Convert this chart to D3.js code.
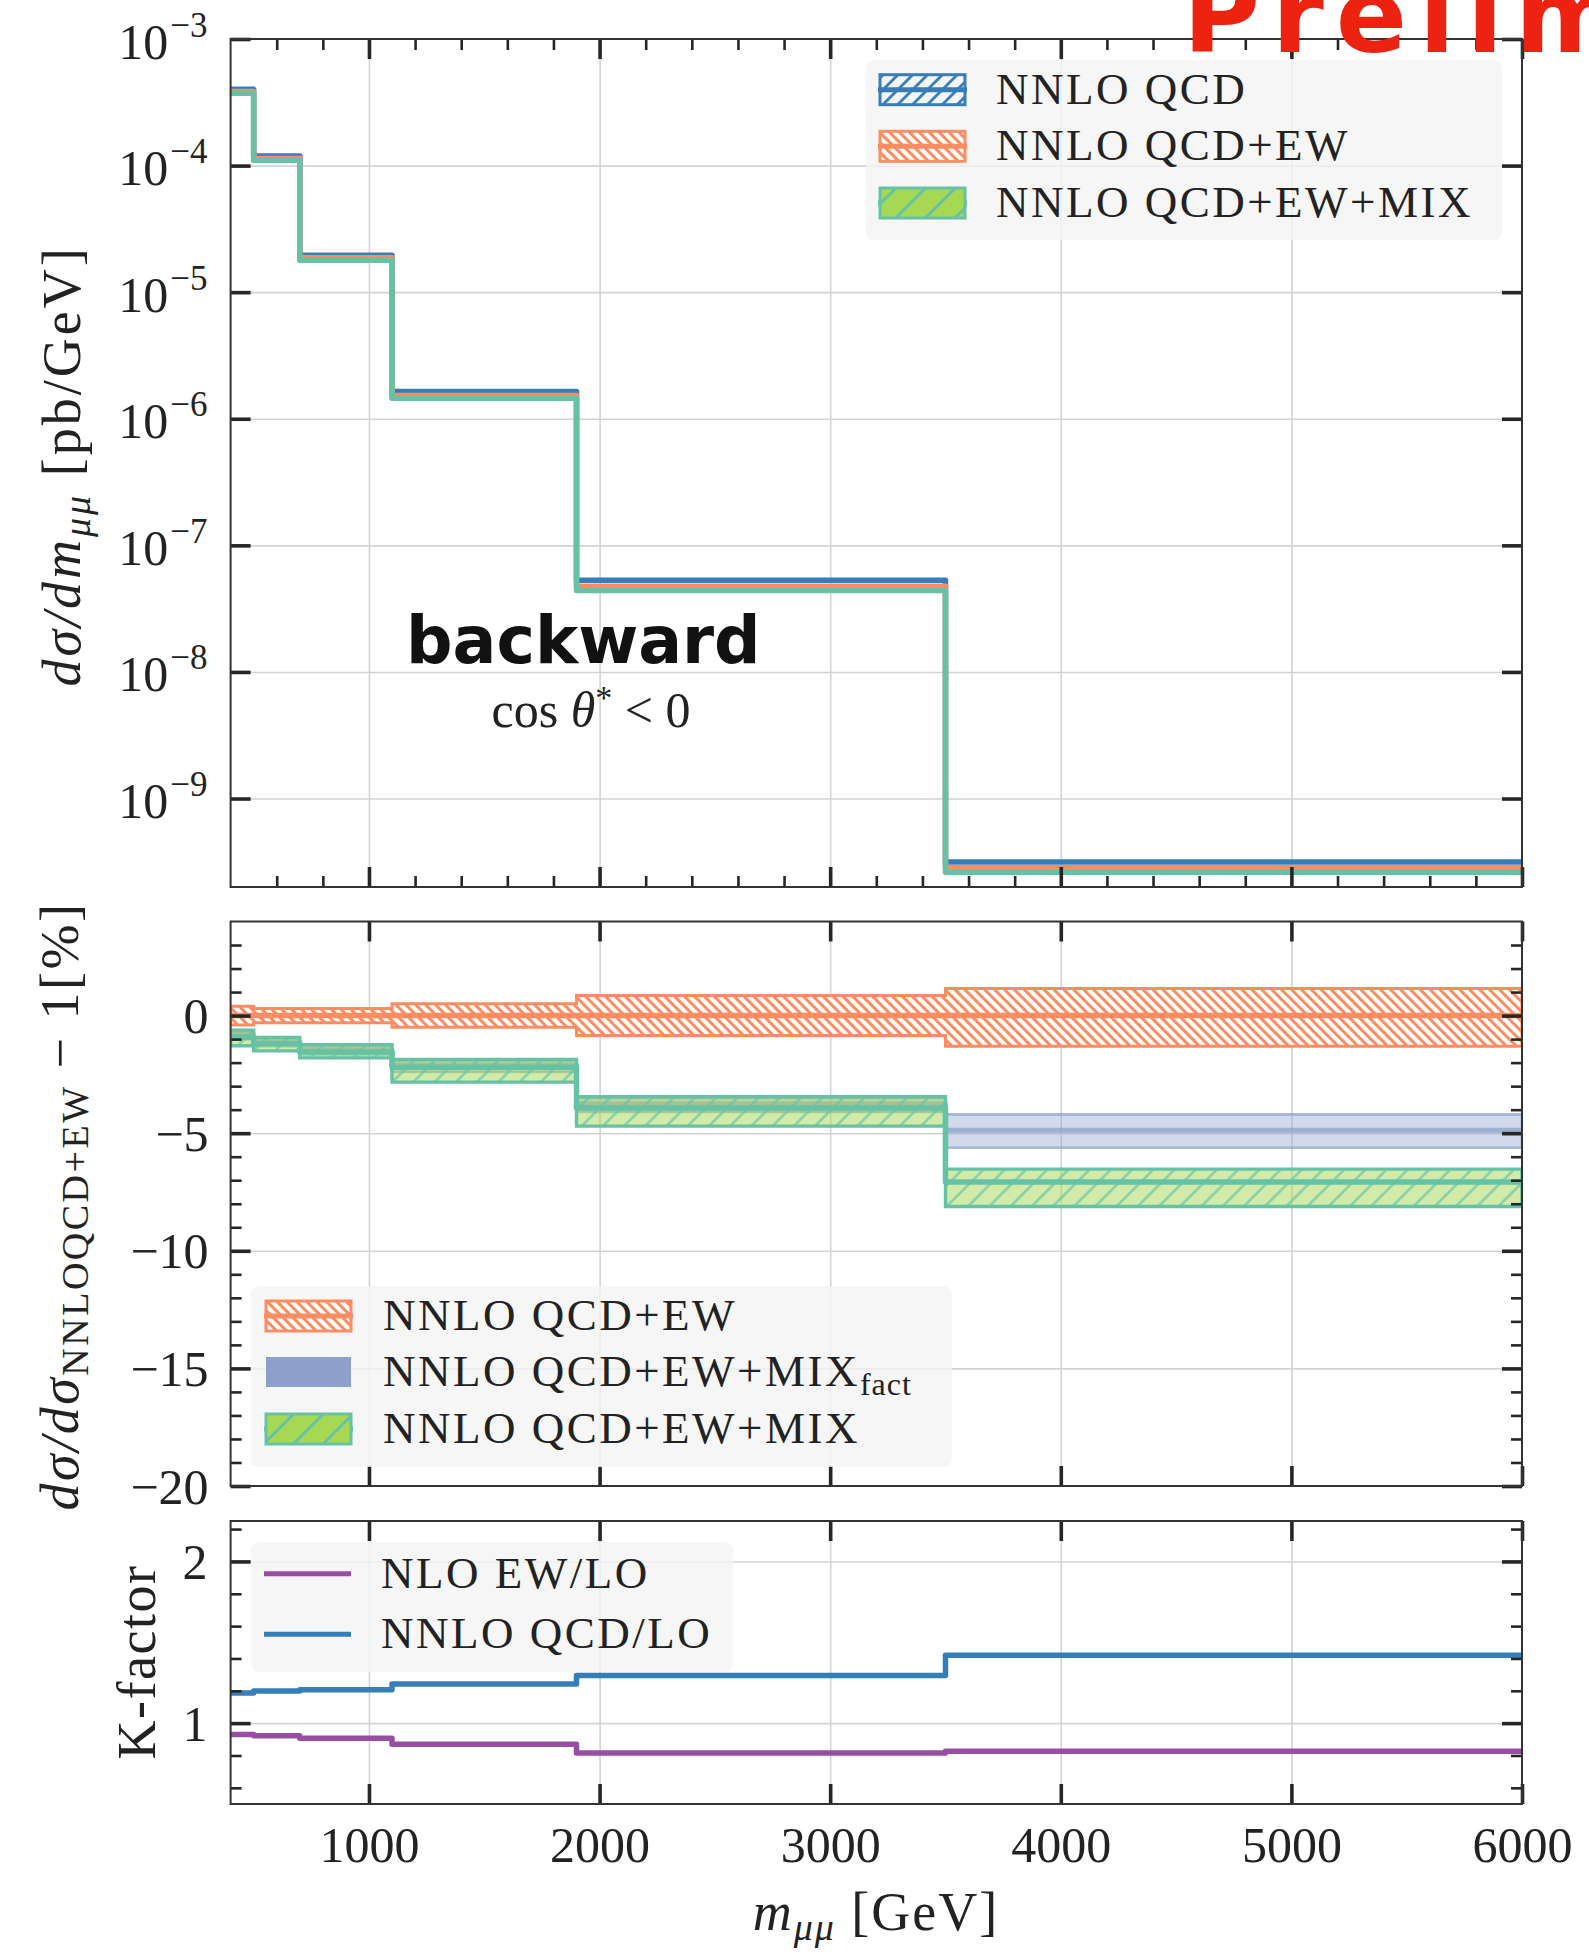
<!DOCTYPE html>
<html><head><meta charset="utf-8">
<script src="https://cdn.jsdelivr.net/npm/d3@7"></script>
<style>body{margin:0;background:#fff} svg{display:block}</style>
</head><body>
<svg id="c" width="1589" height="1960"></svg>
<script>
// ---------------- DATA ----------------
const binEdges = [400, 500, 700, 1100, 1900, 3500, 6000];
// top panel: dσ/dm [pb/GeV]
const xsNNLO_QCD      = [4.0e-4, 1.19e-4, 1.96e-5, 1.64e-6, 5.3e-8, 3.15e-10];
const xsNNLO_QCD_EW   = [3.85e-4, 1.14e-4, 1.87e-5, 1.53e-6, 4.75e-8, 2.84e-10];
const xsNNLO_QCD_EW_MIX = [3.72e-4, 1.10e-4, 1.79e-5, 1.45e-6, 4.4e-8, 2.62e-10];
// middle panel: ratio to NNLO QCD+EW - 1 [%]
const ewCenter = [0, 0, 0, 0, 0, 0];
const ewUp     = [0.4, 0.3, 0.3, 0.5, 0.85, 1.15];
const ewDown   = [-0.4, -0.3, -0.3, -0.5, -0.85, -1.3];
const factCenter = [-0.8, -1.12, -1.45, -2.1, -3.75, -4.88];
const factUp     = [-0.62, -0.95, -1.27, -1.9, -3.5, -4.2];
const factDown   = [-1.0, -1.3, -1.65, -2.4, -4.1, -5.62];
const mixCenter = [-0.92, -1.2, -1.55, -2.2, -3.93, -7.07];
const mixUp     = [-0.62, -0.93, -1.24, -1.87, -3.45, -6.53];
const mixDown   = [-1.28, -1.5, -1.8, -2.83, -4.7, -8.12];
// bottom panel: K-factors
const kNLO_EW  = [0.93, 0.922, 0.907, 0.87, 0.816, 0.826];
const kNNLO_QCD = [1.186, 1.199, 1.207, 1.242, 1.294, 1.42];
// ticks
const xMajorTicks = [1000, 2000, 3000, 4000, 5000, 6000];
const xTickLabels = ["1000", "2000", "3000", "4000", "5000", "6000"];
const topYTicks = [1e-3, 1e-4, 1e-5, 1e-6, 1e-7, 1e-8, 1e-9];
const topYExponents = ["−3", "−4", "−5", "−6", "−7", "−8", "−9"];
const midYTicks = [-20, -15, -10, -5, 0];
const midYLabels = ["−20", "−15", "−10", "−5", "0"];
const botYTicks = [1, 2];
const botYLabels = ["1", "2"];
const botYMinor = [0.6, 0.8, 1.2, 1.4, 1.6, 1.8, 2.2];

// ---------------- LAYOUT ----------------
const FONT = "'Liberation Serif','DejaVu Serif',serif";
const X0 = 230.6, X1 = 1522;
const P = {top: [39, 887], mid: [921.5, 1486], bot: [1521, 1804]};
const C = {blue: "#377eb8", orange: "#fc8d62", teal: "#66c2a5", green: "#a6d854", purple: "#8da0cb", kpurple: "#984ea3"};

const svg = d3.select("#c");
const defs = svg.append("defs");
const x = d3.scaleLinear().domain([400, 6000]).range([X0, X1]);
const yT = d3.scaleLog().domain([2e-10, 1e-3]).range([P.top[1], P.top[0]]);
const yM = d3.scaleLinear().domain([-20, 4]).range([P.mid[1], P.mid[0]]);
const yB = d3.scaleLinear().domain([0.5, 2.25]).range([P.bot[1], P.bot[0]]);

const xMinorTicks = d3.range(600, 6000, 200).filter(v => v % 1000 !== 0);
const midYMinor = d3.range(-19, 4, 1).filter(v => v % 5 !== 0);

// patterns
function hatch(id, spacing, angle, color, width, bg, op) {
  const p = defs.append("pattern").attr("id", id).attr("patternUnits", "userSpaceOnUse")
    .attr("width", spacing).attr("height", spacing).attr("patternTransform", `rotate(${angle})`);
  if (bg) p.append("rect").attr("width", spacing).attr("height", spacing).attr("fill", bg);
  p.append("line").attr("x1", spacing / 2).attr("y1", -1).attr("x2", spacing / 2).attr("y2", spacing + 1)
    .attr("stroke", color).attr("stroke-width", width).attr("stroke-opacity", op || 1);
}
hatch("hOrange", 7, -45, C.orange, 3, "#fff");
hatch("hBlue", 10.5, 45, C.blue, 2.8, "#f4f6fa");
hatch("hGreen", 15, 45, C.teal, 2.4, null, 0.75);
hatch("hGreenLeg", 21, 45, C.teal, 3, C.green);

for (const k of ["top", "mid", "bot"]) {
  defs.append("clipPath").attr("id", "clip-" + k).append("rect")
    .attr("x", X0).attr("y", P[k][0]).attr("width", X1 - X0).attr("height", P[k][1] - P[k][0]);
}

function cleanGrid(g) {
  g.select(".domain").remove();
  g.selectAll(".tick line").attr("stroke", "#d3d3d3").attr("stroke-width", 1.6);
}
function grid(k, y, hTicks) {
  const [t, b] = P[k];
  svg.append("g").attr("transform", `translate(0,${b})`)
    .call(d3.axisBottom(x).tickValues(xMajorTicks.slice(0, -1)).tickSize(-(b - t)).tickFormat("")).call(cleanGrid);
  svg.append("g").attr("transform", `translate(${X0},0)`)
    .call(d3.axisLeft(y).tickValues(hTicks).tickSize(-(X1 - X0)).tickFormat("")).call(cleanGrid);
}
function tk(axis, tr, vals, size, w) {
  return svg.append("g").attr("transform", tr)
    .call(axis.tickValues(vals).tickSize(-size).tickFormat(""))
    .call(g => { g.select(".domain").remove(); g.selectAll(".tick line").attr("stroke", "#262626").attr("stroke-width", w); });
}
function frameTicks(k, y, yMaj, yMin, xMin) {
  const [t, b] = P[k];
  tk(d3.axisBottom(x), `translate(0,${b})`, xMajorTicks, 20, 3.6);
  tk(d3.axisTop(x), `translate(0,${t})`, xMajorTicks, 20, 3.6);
  if (xMin) {
    tk(d3.axisBottom(x), `translate(0,${b})`, xMin, 11, 2.6);
    tk(d3.axisTop(x), `translate(0,${t})`, xMin, 11, 2.6);
  }
  tk(d3.axisLeft(y), `translate(${X0},0)`, yMaj, 20, 3.6);
  tk(d3.axisRight(y), `translate(${X1},0)`, yMaj, 20, 3.6);
  if (yMin) {
    tk(d3.axisLeft(y), `translate(${X0},0)`, yMin, 11, 2.6);
    tk(d3.axisRight(y), `translate(${X1},0)`, yMin, 11, 2.6);
  }
  svg.append("rect").attr("x", X0).attr("y", t).attr("width", X1 - X0).attr("height", b - t)
    .attr("fill", "none").attr("stroke", "#333").attr("stroke-width", 2);
}
function stepPts(vals) {
  const p = vals.map((v, i) => [binEdges[i], v]);
  p.push([binEdges[binEdges.length - 1], vals[vals.length - 1]]);
  return p;
}
function bandPts(up, down) {
  const p = up.map((v, i) => [binEdges[i], v, down[i]]);
  p.push([binEdges[binEdges.length - 1], up[up.length - 1], down[down.length - 1]]);
  return p;
}
function stepLine(g, y, vals, color, w, op) {
  g.append("path").attr("d", d3.line().x(d => x(d[0])).y(d => y(d[1])).curve(d3.curveStepAfter)(stepPts(vals)))
    .attr("fill", "none").attr("stroke", color).attr("stroke-width", w).attr("stroke-opacity", op || 1)
    .attr("stroke-linejoin", "round");
}
function band(g, y, up, down, fill, fillOp, stroke, sw, sop) {
  g.append("path").attr("d", d3.area().x(d => x(d[0])).y0(d => y(d[2])).y1(d => y(d[1])).curve(d3.curveStepAfter)(bandPts(up, down)))
    .attr("fill", fill).attr("fill-opacity", fillOp).attr("stroke", stroke || "none").attr("stroke-width", sw || 0).attr("stroke-opacity", sop || 1);
}

// ---------------- TOP PANEL ----------------
grid("top", yT, topYTicks.slice(1));
const gT = svg.append("g").attr("clip-path", "url(#clip-top)");
stepLine(gT, yT, xsNNLO_QCD, C.blue, 5.5);
stepLine(gT, yT, xsNNLO_QCD_EW, C.orange, 5.5);
stepLine(gT, yT, xsNNLO_QCD_EW_MIX, C.teal, 5.5);
frameTicks("top", yT, topYTicks, null, xMinorTicks);
svg.append("g").attr("transform", `translate(${X0},0)`)
  .call(d3.axisLeft(yT).tickValues(topYTicks).tickSize(-20).tickPadding(23).tickFormat(() => ""))
  .call(g => {
    g.select(".domain").remove(); g.selectAll(".tick line").remove();
    g.selectAll(".tick text").attr("dy", "19px").attr("font-family", FONT).attr("fill", "#222")
      .each(function (d, i) {
        const t = d3.select(this);
        t.append("tspan").attr("font-size", 50).text("10");
        t.append("tspan").attr("font-size", 35).attr("dy", -22).attr("dx", 2).text(topYExponents[i]);
      });
  });

// ---------------- MIDDLE PANEL ----------------
grid("mid", yM, midYTicks.slice(1));
const gM = svg.append("g").attr("clip-path", "url(#clip-mid)");
// NNLO QCD+EW band
band(gM, yM, ewUp, ewDown, "url(#hOrange)", 1, C.orange, 3);
stepLine(gM, yM, ewCenter, C.orange, 5.5);
// MIX_fact band
band(gM, yM, factUp, factDown, C.purple, 0.4, C.purple, 2.6, 0.7);
stepLine(gM, yM, factCenter, C.purple, 5, 0.75);
// MIX band
band(gM, yM, mixUp, mixDown, C.green, 0.5);
band(gM, yM, mixUp, mixDown, "url(#hGreen)", 1, C.teal, 3.4);
stepLine(gM, yM, mixCenter, C.teal, 5.5);
frameTicks("mid", yM, midYTicks, midYMinor, null);
svg.append("g").attr("transform", `translate(${X0},0)`)
  .call(d3.axisLeft(yM).tickValues(midYTicks).tickSize(-20).tickPadding(22).tickFormat((d, i) => midYLabels[i]))
  .call(g => {
    g.select(".domain").remove(); g.selectAll(".tick line").remove();
    g.selectAll(".tick text").attr("dy", "17px").attr("font-family", FONT).attr("font-size", 50).attr("fill", "#222");
  });

// ---------------- BOTTOM PANEL ----------------
grid("bot", yB, botYTicks);
const gB = svg.append("g").attr("clip-path", "url(#clip-bot)");
stepLine(gB, yB, kNLO_EW, C.kpurple, 5.5);
stepLine(gB, yB, kNNLO_QCD, C.blue, 5.5);
frameTicks("bot", yB, botYTicks, botYMinor, null);
svg.append("g").attr("transform", `translate(${X0},0)`)
  .call(d3.axisLeft(yB).tickValues(botYTicks).tickSize(-20).tickPadding(23).tickFormat((d, i) => botYLabels[i]))
  .call(g => {
    g.select(".domain").remove(); g.selectAll(".tick line").remove();
    g.selectAll(".tick text").attr("dy", "17px").attr("font-family", FONT).attr("font-size", 50).attr("fill", "#222");
  });
svg.append("g").attr("transform", `translate(0,${P.bot[1]})`)
  .call(d3.axisBottom(x).tickValues(xMajorTicks).tickSize(-20).tickPadding(22).tickFormat((d, i) => xTickLabels[i]))
  .call(g => {
    g.select(".domain").remove(); g.selectAll(".tick line").remove();
    g.selectAll(".tick text").attr("dy", "0.71em").attr("font-family", FONT).attr("font-size", 50).attr("fill", "#222");
  });

// ---------------- LEGENDS ----------------
function legendBox(x0, y0, x1, y1) {
  svg.append("rect").attr("x", x0).attr("y", y0).attr("width", x1 - x0).attr("height", y1 - y0)
    .attr("rx", 8).attr("fill", "#f4f4f4").attr("fill-opacity", 0.8);
}
function legText(xp, yc, parts) {
  const t = svg.append("text").attr("x", xp).attr("y", yc + 14).attr("font-family", FONT)
    .attr("font-size", 45).attr("letter-spacing", "2.5px").attr("fill", "#222");
  for (const p of parts) {
    const s = t.append("tspan").text(p.t);
    if (p.sub) s.attr("font-size", 32).attr("dy", 9).attr("letter-spacing", "1px");
  }
}
function hatchHandle(hx, yc, fill, stroke, midUnder) {
  if (midUnder) svg.append("line").attr("x1", hx - 2).attr("x2", hx + 87).attr("y1", yc).attr("y2", yc).attr("stroke", stroke).attr("stroke-width", 5);
  svg.append("rect").attr("x", hx).attr("y", yc - 15).attr("width", 85).attr("height", 30)
    .attr("fill", fill).attr("stroke", stroke).attr("stroke-width", 3);
  if (!midUnder) svg.append("line").attr("x1", hx - 2).attr("x2", hx + 87).attr("y1", yc).attr("y2", yc).attr("stroke", stroke).attr("stroke-width", 5);
}
// top legend
legendBox(866, 60, 1502, 240);
hatchHandle(880, 89.7, "url(#hBlue)", C.blue, false);
hatchHandle(880, 146.3, "url(#hOrange)", C.orange, false);
hatchHandle(880, 203, "url(#hGreenLeg)", C.teal, true);
legText(996, 89.7, [{t: "NNLO QCD"}]);
legText(996, 146.3, [{t: "NNLO QCD+EW"}]);
legText(996, 203, [{t: "NNLO QCD+EW+MIX"}]);
// middle legend
legendBox(251, 1286, 952, 1467);
hatchHandle(266, 1316, "url(#hOrange)", C.orange, false);
svg.append("rect").attr("x", 266).attr("y", 1357).attr("width", 85).attr("height", 30).attr("fill", C.purple);
hatchHandle(266, 1429, "url(#hGreenLeg)", C.teal, true);
legText(383, 1316, [{t: "NNLO QCD+EW"}]);
legText(383, 1372, [{t: "NNLO QCD+EW+MIX"}, {t: "fact", sub: true}]);
legText(383, 1429, [{t: "NNLO QCD+EW+MIX"}]);
// bottom legend
legendBox(251, 1542, 733, 1672);
svg.append("line").attr("x1", 264).attr("x2", 351).attr("y1", 1573.7).attr("y2", 1573.7).attr("stroke", C.kpurple).attr("stroke-width", 5);
svg.append("line").attr("x1", 264).attr("x2", 351).attr("y1", 1634.3).attr("y2", 1634.3).attr("stroke", C.blue).attr("stroke-width", 5);
legText(381, 1573.7, [{t: "NLO EW/LO"}]);
legText(381, 1634.3, [{t: "NNLO QCD/LO"}]);

// ---------------- AXIS LABELS ----------------
function rotLabel(xb, yc, parts, ls) {
  const t = svg.append("text").attr("transform", `translate(${xb},${yc}) rotate(-90)`).attr("text-anchor", "middle")
    .attr("font-family", FONT).attr("font-size", 54).attr("letter-spacing", ls).attr("fill", "#222");
  for (const p of parts) {
    const s = t.append("tspan").text(p.t);
    if (p.it) s.attr("font-style", "italic");
    if (p.size) s.attr("font-size", p.size);
    if (p.dy) s.attr("dy", p.dy);
  }
}
rotLabel(80, 466, [{t: "dσ/dm", it: 1}, {t: "μμ", it: 1, size: 38, dy: 10}, {t: " [pb/GeV]", dy: -10}], "3px");
rotLabel(78, 1206, [{t: "dσ/dσ", it: 1}, {t: "NNLOQCD+EW", size: 38, dy: 10}, {t: " − 1[%]", dy: -10}], "2.5px");
rotLabel(155, 1662, [{t: "K-factor"}], "1.5px");
const xl = svg.append("text").attr("x", 876).attr("y", 1930).attr("text-anchor", "middle")
  .attr("font-family", FONT).attr("font-size", 54).attr("letter-spacing", "2px").attr("fill", "#222");
xl.append("tspan").attr("font-style", "italic").text("m");
xl.append("tspan").attr("font-style", "italic").attr("font-size", 38).attr("dy", 10).text("μμ");
xl.append("tspan").attr("dy", -10).text(" [GeV]");

// ---------------- ANNOTATIONS ----------------
svg.append("text").attr("x", 406).attr("y", 663).attr("font-family", "'DejaVu Sans',sans-serif")
  .attr("font-weight", "bold").attr("font-size", 65).attr("fill", "#111").text("backward");
const ct = svg.append("text").attr("x", 591).attr("y", 727).attr("text-anchor", "middle")
  .attr("font-family", FONT).attr("font-size", 50).attr("fill", "#222");
ct.append("tspan").text("cos ");
ct.append("tspan").attr("font-style", "italic").text("θ");
ct.append("tspan").attr("font-size", 34).attr("dy", -18).text("*");
ct.append("tspan").attr("dy", 18).text(" < 0");
svg.append("text").attr("x", 1183).attr("y", 52).attr("font-family", "'DejaVu Sans',sans-serif")
  .attr("font-weight", "bold").attr("font-size", 105).attr("letter-spacing", "12px")
  .attr("fill", "#ee2211").text("Preliminary");
</script>
</body></html>
